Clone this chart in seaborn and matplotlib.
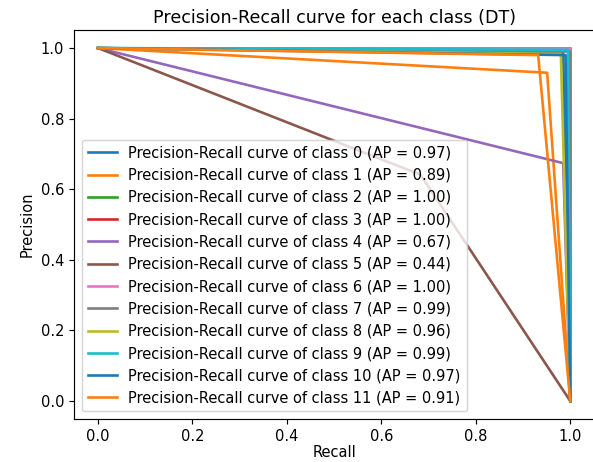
import matplotlib
matplotlib.use("Agg")
import matplotlib.pyplot as plt
import seaborn as sns
import pandas as pd

classes = list(range(12))
ap_values = [0.97, 0.89, 1.00, 1.00, 0.67, 0.44, 1.00, 0.99, 0.96, 0.99, 0.97, 0.91]
# operating point (recall, precision) of each class's decision tree
op_recall = [0.985, 0.951, 1.0, 1.0, 0.985, 0.683, 1.0, 1.0, 0.980, 0.995, 0.990, 0.932]
op_precision = [0.985, 0.930, 1.0, 1.0, 0.674, 0.641, 1.0, 0.990, 0.983, 0.995, 0.980, 0.980]
start_recall = 0.0
start_precision = 1.0
end_recall = 1.0
end_precision = [0.0] * 12

rows = []
labels = []
for c, ap, r, p, ep in zip(classes, ap_values, op_recall, op_precision, end_precision):
    lab = f"Precision-Recall curve of class {c} (AP = {ap:.2f})"
    labels.append(lab)
    for i, (rx, py) in enumerate([(start_recall, start_precision), (r, p), (end_recall, ep)]):
        rows.append({"label": lab, "order": i, "Recall": rx, "Precision": py})
df = pd.DataFrame(rows)

dpi = 105
fig = plt.figure(figsize=(593 / dpi, 462 / dpi), dpi=dpi)
ax = fig.add_axes([0.1255, 0.0937, 0.876, 0.8405])

palette = sns.color_palette("tab10", 10)
colors = [palette[i % 10] for i in classes]

sns.lineplot(data=df, x="Recall", y="Precision", hue="label", hue_order=labels,
             palette=colors, sort=False, estimator=None, lw=1.8, ax=ax)

ax.set_xlabel("Recall", labelpad=1)
ax.set_ylabel("Precision")
ax.set_title("Precision-Recall curve for each class (DT)", pad=5)
ax.legend(loc="lower left")

fig.savefig("out.png", dpi=dpi)
